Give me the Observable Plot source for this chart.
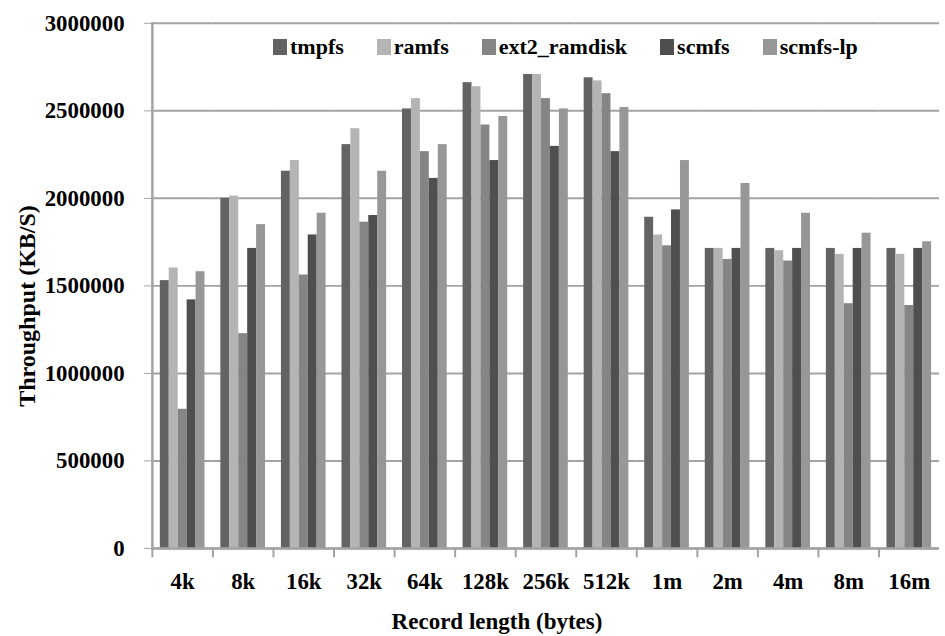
<!DOCTYPE html>
<html><head><meta charset="utf-8">
<script src="https://cdn.jsdelivr.net/npm/d3@7"></script>
<script src="https://cdn.jsdelivr.net/npm/@observablehq/plot@0.6"></script>
<style>
body{margin:0;background:#fff;}
#wrap{position:relative;width:945px;height:636px;overflow:hidden;font-family:"Liberation Serif","DejaVu Serif",serif;font-weight:bold;color:#000;}
#legend{position:absolute;top:35px;left:273px;display:flex;gap:33px;font-size:22px;line-height:24px;}
.item{display:flex;align-items:center;}
.sw{width:14px;height:16px;margin-right:3px;}
.title{position:absolute;font-size:23px;line-height:26px;white-space:nowrap;}
#xtitle{left:497px;top:609px;transform:translateX(-50%);}
#ytitle{left:27px;top:306px;transform:translate(-50%,-50%) rotate(-90deg);font-size:24px;}
</style></head>
<body><div id="wrap"><div id="chart"></div><div id="legend"></div>
<div id="xtitle" class="title">Record length (bytes)</div>
<div id="ytitle" class="title">Throughput (KB/S)</div></div>
<script>
const categories = ["4k","8k","16k","32k","64k","128k","256k","512k","1m","2m","4m","8m","16m"];
const seriesNames = ["tmpfs","ramfs","ext2_ramdisk","scmfs","scmfs-lp"];
const seriesColors = ["#636363","#b4b4b4","#858585","#4f4f4f","#979797"];
const tmpfs = [1530000,2000000,2155000,2307000,2511000,2661000,2708000,2689000,1892000,1714000,1714000,1714000,1714000];
const ramfs = [1602000,2013000,2216000,2398000,2570000,2638000,2708000,2671000,1791000,1714000,1701000,1680000,1680000];
const ext2_ramdisk = [795000,1227000,1562000,1864000,2267000,2419000,2570000,2598000,1729000,1651000,1642000,1398000,1388000];
const scmfs = [1420000,1714000,1791000,1902000,2114000,2216000,2297000,2267000,1934000,1714000,1714000,1714000,1714000];
const scmfsLp = [1581000,1850000,1915000,2155000,2307000,2468000,2511000,2519000,2216000,2085000,1915000,1801000,1752000];
const yTicks = [0,500000,1000000,1500000,2000000,2500000,3000000];

const seriesValues = [tmpfs, ramfs, ext2_ramdisk, scmfs, scmfsLp];
const rows = [];
categories.forEach((c, i) => {
  seriesNames.forEach((s, j) => rows.push({category: c, series: s, value: seriesValues[j][i]}));
});

const H = 636, MT = 23, MB = 84;
const innerH = H - MT - MB;
const gray = "#a3a3a3";

const plot = Plot.plot({
  width: 952,
  height: H,
  marginLeft: 147,
  marginRight: 0,
  marginTop: MT,
  marginBottom: MB,
  style: {fontFamily: "Liberation Serif, DejaVu Serif, serif", fontSize: "22px", fontWeight: "bold", color: "#000", background: "#fff", overflow: "visible"},
  fx: {domain: categories, padding: 0, label: null},
  x: {domain: seriesNames, paddingInner: 0, paddingOuter: 0.8, axis: null},
  y: {domain: [0, 3000000], label: null},
  color: {domain: seriesNames, range: seriesColors},
  marks: [
    Plot.gridY(yTicks, {stroke: gray, strokeOpacity: 1, strokeWidth: 2}),
    Plot.barY(rows, {fx: "category", x: "series", y: "value", fill: "series", insetLeft: 0, insetRight: 0}),
    Plot.ruleY([0], {stroke: gray, strokeWidth: 2.5}),
    Plot.frame({anchor: "left", facetAnchor: "left", stroke: gray, strokeWidth: 2.5}),
    Plot.frame({anchor: "left", stroke: gray, strokeWidth: 2, insetTop: innerH, insetBottom: -8}),
    Plot.axisY(yTicks, {tickFormat: "d", tickSize: 8, tickPadding: 20, fontSize: 23, stroke: gray, label: null}),
    Plot.axisFx({anchor: "bottom", tickSize: 0, tickPadding: 25, fontSize: 23, label: null})
  ]
});
document.getElementById("chart").appendChild(plot);

const legend = document.getElementById("legend");
seriesNames.forEach((s, j) => {
  const item = document.createElement("div");
  item.className = "item";
  const sw = document.createElement("span");
  sw.className = "sw";
  sw.style.background = seriesColors[j];
  const t = document.createElement("span");
  t.textContent = s;
  item.appendChild(sw); item.appendChild(t);
  legend.appendChild(item);
});
</script>
</body></html>
